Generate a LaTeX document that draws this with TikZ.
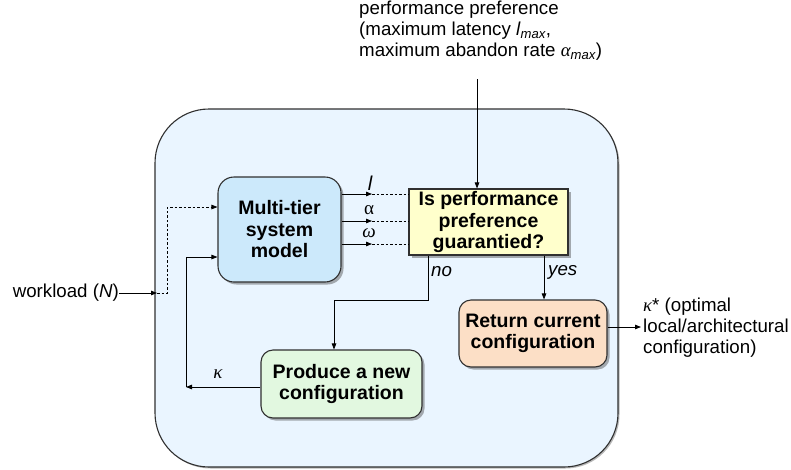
\documentclass[tikz,border=0pt]{standalone}
\usepackage{fontspec}
\setmainfont{Liberation Sans}
\newfontfamily\grk{Liberation Serif}
\usetikzlibrary{arrows.meta,shadows,calc}
\definecolor{bigfill}{HTML}{EAF5FF}
\definecolor{modelfill}{HTML}{CCE9FB}
\definecolor{decfill}{HTML}{FFFFCC}
\definecolor{retfill}{HTML}{FCDFC6}
\definecolor{prodfill}{HTML}{E2F8E0}
\definecolor{edge}{HTML}{303030}
\tikzset{
  boxbase/.style={draw=edge, line width=1.1pt, inner sep=0pt, align=center,
     font=\fontsize{19.5}{21.5}\selectfont\bfseries,
     drop shadow={shadow xshift=2.5pt, shadow yshift=-2.5pt, opacity=0.45, fill=black!70}},
  conn/.style={line width=0.8pt, draw=black},
  arr/.style={conn, -{Triangle[length=6pt,width=4.5pt]}},
  dsh/.style={conn, dash pattern=on 2.5pt off 2pt},
  lbl/.style={font=\fontsize{18.7}{21}\selectfont, inner sep=0pt},
}
\begin{document}
\begin{tikzpicture}[x=1pt,y=-1pt]
\useasboundingbox (0,0) rectangle (791,469);
% outer container
\node[draw=edge, line width=1.1pt, fill=bigfill, rounded corners=54pt,
      minimum width=463pt, minimum height=358pt, inner sep=0pt,
      drop shadow={shadow xshift=1.5pt, shadow yshift=-1.5pt, opacity=0.4, fill=black!70}]
      (big) at (386.5,288) {};
% boxes
\node[boxbase, fill=modelfill, rounded corners=16pt, minimum width=123pt, minimum height=105pt]
      (model) at (279.5,229.5) {Multi-tier\\system\\model};
\node[boxbase, fill=decfill, minimum width=159pt, minimum height=66pt]
      (dec) at (488.5,222) {Is performance\\preference\\guarantied?};
\node[boxbase, fill=retfill, rounded corners=12pt, minimum width=148pt, minimum height=67pt]
      (ret) at (533,333.5) {Return current\\configuration};
\node[boxbase, fill=prodfill, rounded corners=12pt, minimum width=161pt, minimum height=68pt]
      (prod) at (341.5,384) {Produce a new\\configuration};
% texts
\node[lbl, anchor=west, align=left] (pref) at (359,31)
  {performance preference\\(maximum latency \textit{l}\textsubscript{\itshape max},\\maximum abandon rate {\grk\itshape α}\textsubscript{\itshape max})};
\node[lbl, anchor=east] (wl) at (119,293) {workload (\textit{N})};
\node[lbl, anchor=west, align=left] (out) at (643,328)
  {{\grk\itshape κ}* (optimal\\local/architectural\\configuration)};
% coordinates
\coordinate (ptop) at (477,79);
\coordinate (lA) at (372,194);
\coordinate (aA) at (372,221);
\coordinate (wA) at (372,244);
\coordinate (wlA) at (157,293);
\coordinate (wlB) at (167,293);
\coordinate (wlC) at (167,207);
\coordinate (fbA) at (186,387);
\coordinate (fbB) at (186,257);
\coordinate (noA) at (428,300);
\coordinate (noB) at (334,300);
\coordinate (yesA) at (544,300);
\coordinate (outA) at (641,327);
% connectors
\draw[arr] (ptop) -- (ptop |- dec.north);
\draw[arr] (model.east |- lA) -- (lA);
\draw[dsh] (lA) -- (dec.west |- lA);
\draw[arr] (model.east |- aA) -- (aA);
\draw[dsh] (aA) -- (dec.west |- aA);
\draw[arr] (model.east |- wA) -- (wA);
\draw[dsh] (wA) -- (dec.west |- wA);
\node[lbl, font=\fontsize{20}{21}\selectfont\itshape] (lL) at (370,183) {l};
\node[lbl, font=\fontsize{19}{21}\selectfont\grk] (aL) at (369,210) {α};
\node[lbl, font=\fontsize{19}{21}\selectfont\grk\itshape] (wL) at (369,233) {ω};
\draw[arr] (wl.east) -- (wlA);
\draw[dsh, -{Triangle[length=6pt,width=4.5pt]}] (wlA) -- (wlB) -- (wlC) -- (model.west |- wlC);
\draw[arr] (prod.west |- fbA) -- (fbA);
\draw[arr] (fbA) -- (fbB) -- (model.west |- fbB);
\node[lbl, font=\fontsize{19}{21}\selectfont\grk\itshape] (kL) at (218,374) {κ};
\draw[arr] (noA |- dec.south) -- (noA) -- (noB) -- (noB |- prod.north);
\draw[arr] (yesA |- dec.south) -- (yesA |- ret.north);
\node[lbl, anchor=west, font=\fontsize{18.7}{21}\selectfont\itshape] (noL) at (431,272) {no};
\node[lbl, anchor=west, font=\fontsize{18.7}{21}\selectfont\itshape] (yesL) at (548,272) {yes};
\draw[arr] (ret.east |- outA) -- (outA);
\end{tikzpicture}
\end{document}
